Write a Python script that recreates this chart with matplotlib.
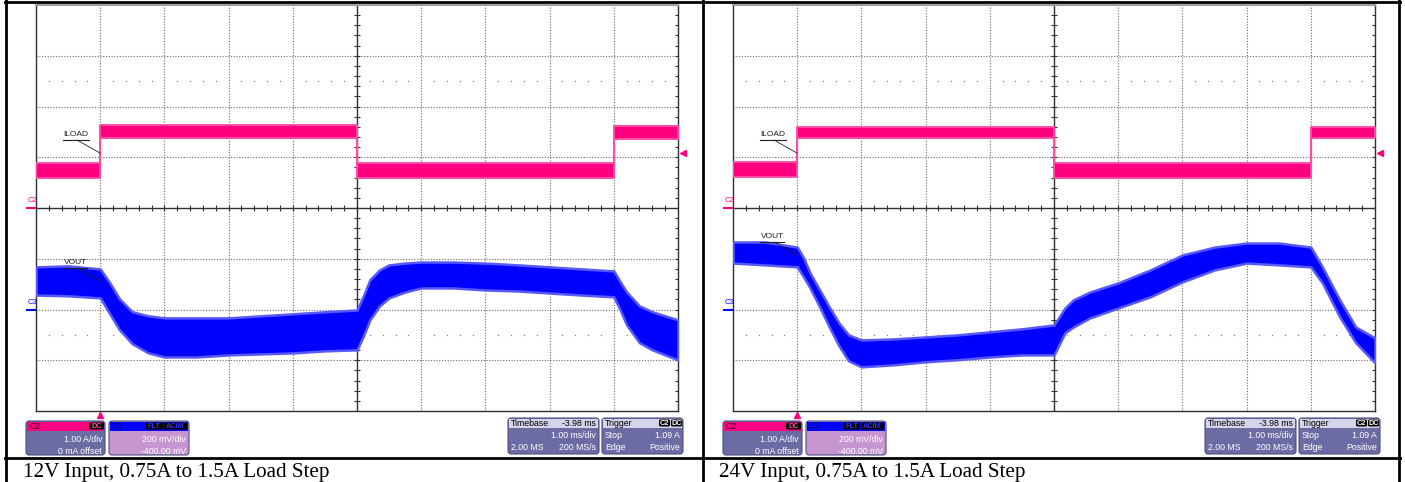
import numpy as np
import matplotlib
matplotlib.use('Agg')
import matplotlib.pyplot as plt
from matplotlib.patches import FancyBboxPatch, Rectangle

W, H = 1405, 482

# time axis in ms, 1 ms/div, trigger at t = 0
t_lo, t_hi = -1.0, 9.0
trig_level = 1.09  # A

# ILOAD (C2, 1 A/div, 0 mA offset) -- noise band edges in A
iload12_t = [-1.0, 0.0, 0.0, 4.0, 4.0, 8.0, 8.0, 9.0]
iload12_hi = [0.89, 0.89, 1.63, 1.63, 0.88, 0.88, 1.61, 1.61]
iload12_lo = [0.59, 0.59, 1.38, 1.38, 0.59, 0.59, 1.36, 1.36]

iload24_t = [-1.0, 0.0, 0.0, 4.0, 4.0, 8.0, 8.0, 9.0]
iload24_hi = [0.90, 0.90, 1.60, 1.60, 0.89, 0.89, 1.59, 1.59]
iload24_lo = [0.61, 0.61, 1.38, 1.38, 0.60, 0.60, 1.38, 1.38]

# VOUT (C3, AC coupled, 200 mV/div, -400 mV offset) -- band edges in mV
vout12_t = [-1.0, -0.5, 0.0, 0.15, 0.3, 0.5, 0.75, 1.0, 1.5, 2.0, 2.5, 3.0, 3.5, 4.0,
            4.1, 4.2, 4.35, 4.5, 4.75, 5.0, 5.5, 6.0, 6.5, 7.0, 7.5, 8.0, 8.1, 8.2,
            8.4, 8.6, 8.8, 9.0]
vout12_hi = [168, 172, 160, 105, 42, -9, -25, -33, -33, -33, -25, -17, -9, -2,
             54, 117, 156, 176, 183, 187, 187, 183, 176, 168, 160, 152, 109, 69,
             14, -9, -25, -41]
vout12_lo = [57, 54, 46, -17, -80, -135, -171, -187, -187, -179, -175, -171, -163, -159,
             -104, -41, 14, 46, 69, 85, 85, 77, 73, 65, 57, 50, -2, -61,
             -131, -159, -179, -198]

vout24_t = [-1.0, -0.5, 0.0, 0.1, 0.2, 0.35, 0.5, 0.65, 0.8, 1.0, 1.5, 2.0, 2.5, 3.0,
            3.5, 4.0, 4.17, 4.3, 4.56, 5.0, 5.5, 6.0, 6.5, 7.0, 7.5, 8.0, 8.18, 8.45,
            8.7, 9.0]
vout24_hi = [266, 266, 246, 203, 144, 77, 10, -53, -100, -120, -116, -108, -100, -88,
             -76, -61, 6, 38, 69, 105, 156, 215, 246, 262, 262, 246, 168, 38,
             -69, -112]
vout24_lo = [183, 176, 168, 128, 85, 10, -69, -143, -202, -226, -218, -206, -198, -187,
             -179, -179, -92, -69, -33, 6, 50, 109, 156, 183, 176, 168, 105, -29,
             -131, -210]

captions = ['12V Input, 0.75A to 1.5A Load Step', '24V Input, 0.75A to 1.5A Load Step']

PINK = '#ff0080'
BLUE = '#0000ff'
GRID = '#6a6a6a'
BODY = '#6c6ca4'
C3BODY = '#c596cf'


def draw_screen(ax):
    ax.set_xlim(t_lo, t_hi)
    ax.set_ylim(-4, 4)
    ax.set_xticks([])
    ax.set_yticks([])
    for x in np.arange(t_lo + 1, t_hi):
        if x != 4:
            ax.axvline(x, color=GRID, lw=0.8, ls=(0, (1, 1.5)), zorder=1)
    for y in range(-3, 4):
        if y != 0:
            ax.axhline(y, color=GRID, lw=0.8, ls=(0, (1, 1.5)), zorder=1)
    ax.axvline(4, color='#303030', lw=1.0, zorder=1)
    ax.axhline(0, color='#303030', lw=1.0, zorder=1)
    xm = np.round(np.arange(t_lo, t_hi + 1e-9, 0.2), 3)
    ym = np.round(np.arange(-4, 4 + 1e-9, 0.2), 3)
    ax.vlines(xm, -0.06, 0.06, color='#303030', lw=0.8, zorder=1)
    ax.hlines(ym, 4 - 0.045, 4 + 0.045, color='#303030', lw=0.8, zorder=1)
    ax.hlines(ym, t_hi - 0.05, t_hi, color='#303030', lw=0.8, zorder=1)
    dots = [x for x in xm if abs(x - round(x)) > 1e-6]
    for yy in (2.5, -2.5):
        ax.plot(dots, [yy] * len(dots), ls='none', marker='s', ms=0.9,
                color='#808080', mec='none', zorder=1)
    for s in ('left', 'bottom', 'right'):
        ax.spines[s].set_color('#303030')
        ax.spines[s].set_linewidth(1.0)
    ax.spines['top'].set_color('#a0a0a0')
    ax.spines['top'].set_linewidth(1.6)


def draw_panel(fig, left_px, it, ihi, ilo, vt, vhi, vlo, il_y, vo_lab):
    ax = fig.add_axes([left_px / W, (H - 411) / H, 642 / W, 406 / H])
    draw_screen(ax)

    # current trace
    imid = [(a + b) / 2 for a, b in zip(ihi, ilo)]
    ax.plot(it, imid, color='#ff8cc6', lw=1.0, zorder=2)
    ax.fill_between(it, ilo, ihi, color=PINK, lw=1.4, ec='#ff4da6', zorder=3)

    ax.text(-0.57, il_y + 0.04, 'ILOAD', fontsize=6, family='Liberation Sans',
            color='#202020', va='bottom', zorder=5)
    ax.plot([-0.58, -0.17], [il_y, il_y], color='#202020', lw=0.8, zorder=5)
    ax.plot([-0.36, 0.0], [il_y, 1.08], color='#202020', lw=0.6, zorder=5)

    # channel ground markers
    ax.text(-1.13, 0.07, 'C2', fontsize=5.5, family='Liberation Sans', color=PINK,
            va='bottom', clip_on=False)
    ax.plot([-1.14, -1.02], [0.0, 0.0], color=PINK, lw=1.5, clip_on=False)
    ax.text(-1.13, -1.93, 'C3', fontsize=5.5, family='Liberation Sans', color=BLUE,
            va='bottom', clip_on=False)
    ax.plot([-1.14, -1.02], [-2.0, -2.0], color=BLUE, lw=1.5, clip_on=False)

    # trigger markers
    ax.plot(0, -4.07, marker='^', ms=5, color=PINK, clip_on=False)
    ax.plot(t_hi + 0.08, trig_level, marker='<', ms=5, color=PINK, clip_on=False)

    # voltage trace on its own scale
    axv = ax.twinx()
    axv.set_ylim(-400, 1200)
    axv.axis('off')
    axv.fill_between(vt, vlo, vhi, color=BLUE, ec='#5858ff', lw=1.8, zorder=3)
    lx, ly, ey = vo_lab
    axv.text(-0.57, ly + 8, 'VOUT', fontsize=6, family='Liberation Sans',
             color='#202020', va='bottom', zorder=5)
    axv.plot([-0.58, -0.2], [ly, ly], color='#202020', lw=0.8, zorder=5)
    axv.plot([-0.36, 0.0], [ly, ey], color='#202020', lw=0.6, zorder=5)
    return ax


def badge(ov, x, y, w, txt, fg):
    ov.add_patch(FancyBboxPatch((x, y), w, 7, boxstyle='round,pad=0,rounding_size=1.5',
                                fc='black', ec='none'))
    ov.text(x + w / 2, y + 3.8, txt, fontsize=5.3, family='Liberation Sans',
            color=fg, ha='center', va='center', weight='bold')


def info_box(ov, x0, y0, w, h, head_bg, body_bg, head_l, head_r, head_fg, rows):
    ov.add_patch(FancyBboxPatch((x0, y0), w, h, boxstyle='round,pad=0,rounding_size=3',
                                fc=body_bg, ec='#50507e', lw=0.8))
    ov.add_patch(Rectangle((x0 + 1, y0 + 1), w - 2, 9, fc=head_bg, ec='none'))
    ov.text(x0 + 3, y0 + 5.5, head_l, fontsize=6.3, family='Liberation Sans',
            color=head_fg, va='center')
    if head_r:
        ov.text(x0 + w - 3, y0 + 5.5, head_r, fontsize=6.3, family='Liberation Sans',
                color=head_fg, va='center', ha='right')
    for i, (l, r) in enumerate(rows):
        yy = y0 + 18 + 12 * i
        if l:
            ov.text(x0 + 3, yy, l, fontsize=6.3, family='Liberation Sans', color='white', va='center')
        if r:
            ov.text(x0 + w - 3, yy, r, fontsize=6.3, family='Liberation Sans', color='white',
                    va='center', ha='right')


fig = plt.figure(figsize=(W / 100, H / 100), dpi=100)
fig.patch.set_facecolor('white')

draw_panel(fig, 36, iload12_t, iload12_hi, iload12_lo, vout12_t, vout12_hi, vout12_lo,
           1.34, (0, 164, 113))
draw_panel(fig, 733, iload24_t, iload24_hi, iload24_lo, vout24_t, vout24_hi, vout24_lo,
           1.34, (0, 266, 215))

ov = fig.add_axes([0, 0, 1, 1])
ov.set_xlim(0, W)
ov.set_ylim(H, 0)
ov.axis('off')

for dx in (0, 697):
    info_box(ov, 26 + dx, 421, 79, 34, PINK, BODY, 'C2', '', '#3a0020',
             [('', '1.00 A/div'), ('', '0 mA offset')])
    badge(ov, 89 + dx, 422.5, 15, 'DC', '#ff4da6')
    info_box(ov, 109 + dx, 421, 80, 34, BLUE, C3BODY, 'C3', '', '#000060',
             [('', '200 mV/div'), ('', '-400.00 mV')])
    badge(ov, 146 + dx, 422.5, 17, 'FLT', '#3030ff')
    badge(ov, 164 + dx, 422.5, 23, 'ACIM', '#3030ff')
    info_box(ov, 508 + dx, 418, 91, 36, '#d4d4ea', BODY, 'Timebase', '-3.98 ms', 'black',
             [('', '1.00 ms/div'), ('2.00 MS', '200 MS/s')])
    info_box(ov, 602 + dx, 418, 81, 36, '#d4d4ea', BODY, 'Trigger', '', 'black',
             [('Stop', '%.2f A' % trig_level), ('Edge', 'Positive')])
    badge(ov, 659 + dx, 419.5, 11, 'C2', 'white')
    badge(ov, 671 + dx, 419.5, 11, 'DC', 'white')

# table borders
ov.plot([5.5, 5.5], [0, H], color='black', lw=2)
ov.plot([703, 703], [0, H], color='black', lw=2)
ov.plot([1399, 1399], [0, H], color='black', lw=2)
ov.plot([5, 1400], [1.5, 1.5], color='black', lw=2)
ov.plot([5, 1400], [458, 458], color='black', lw=2)

ov.text(23, 477, captions[0], fontsize=15.2, family='Liberation Serif', va='baseline')
ov.text(719, 477, captions[1], fontsize=15.2, family='Liberation Serif', va='baseline')

fig.savefig('out.png', dpi=100)
